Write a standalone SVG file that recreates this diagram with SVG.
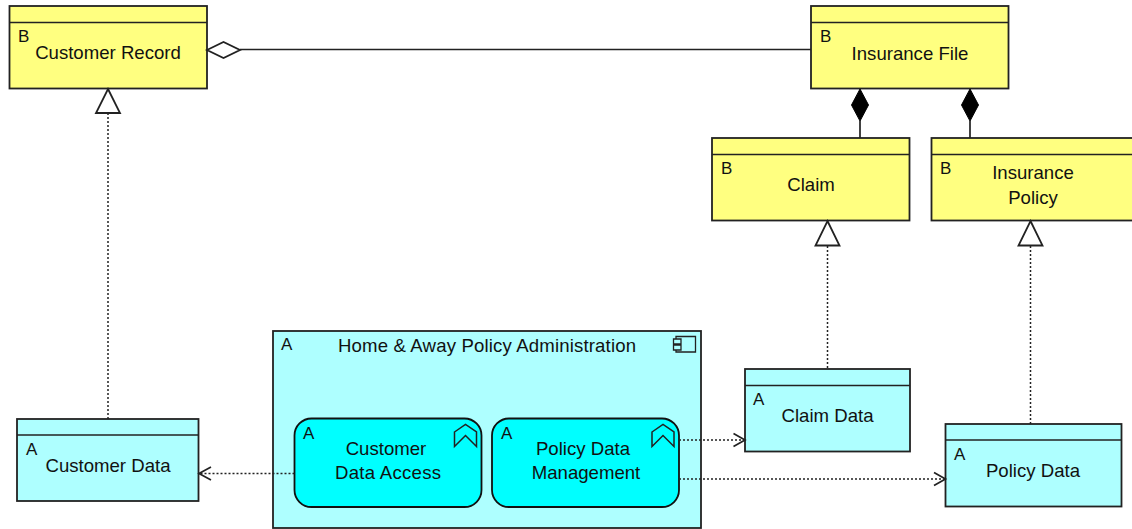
<svg xmlns="http://www.w3.org/2000/svg" width="1132" height="529" viewBox="0 0 1132 529">
<style>
text{font-family:"Liberation Sans",Arial,sans-serif;font-size:18.600px;fill:#111;text-anchor:middle}
text.t{text-anchor:start;font-size:17px}
.b{fill:#ffff80;stroke:#222;stroke-width:1.800}
.a{fill:#aeffff;stroke:#222;stroke-width:1.800}
.f{fill:#00ffff;stroke:#111;stroke-width:1.800}
.h{fill:none;stroke:#222;stroke-width:1.500}
.i{fill:#aeffff;stroke:#222;stroke-width:1.300}
.c{fill:none;stroke:#222;stroke-width:1.700}
.d{fill:none;stroke:#222;stroke-width:1.500;stroke-dasharray:2 2}
.o{fill:#fff;stroke:#222;stroke-width:1.800}
.k{fill:#000;stroke:#000;stroke-width:1}
</style>
<defs>
<path id="chev" class="h" d="M-11 -7 0 -14.500 11 -7V7.500L0 -3.500 -11 7.500Z"/>
</defs>
<g id="customer-record"><rect class="b" x="9.500" y="6" width="197.500" height="82.500"/><path class="h" d="M9.500 22.500H207"/><text class="t" x="18" y="42">B</text><text x="108" y="59">Customer Record</text></g>
<g id="insurance-file"><rect class="b" x="811" y="6" width="197.500" height="82.500"/><path class="h" d="M811 22.500H1008.500"/><text class="t" x="820" y="42">B</text><text x="910" y="60">Insurance File</text></g>
<g id="claim"><rect class="b" x="712" y="138" width="197.500" height="82.500"/><path class="h" d="M712 154.500H909.500"/><text class="t" x="721" y="174">B</text><text x="811" y="191">Claim</text></g>
<g id="insurance-policy"><rect class="b" x="931.500" y="138" width="210" height="82.500"/><path class="h" d="M931.500 154.500H1132"/><text class="t" x="940" y="174">B</text><text x="1033" y="179">Insurance</text><text x="1033" y="204">Policy</text></g>
<g id="home-away"><rect class="a" x="273" y="331" width="428" height="197"/><text class="t" x="281" y="350">A</text><text x="487" y="352" textLength="298">Home &amp; Away Policy Administration</text>
<path class="i" d="M676 336.500H695.500V352H676Z"/><path class="i" d="M673.500 339H681V344H673.500ZM673.500 345H681V350H673.500Z"/></g>
<g id="customer-data-access"><rect class="f" x="294.500" y="418.500" width="187" height="88.500" rx="17" ry="17"/><text class="t" x="303" y="439">A</text><text x="386" y="454.500">Customer</text><text x="388" y="479" textLength="106">Data Access</text><use href="#chev" x="465.500" y="439"/></g>
<g id="policy-data-management"><rect class="f" x="492" y="418.500" width="187" height="88.500" rx="17" ry="17"/><text class="t" x="501" y="439">A</text><text x="583" y="454.500">Policy Data</text><text x="586" y="479">Management</text><use href="#chev" x="663" y="439"/></g>
<g id="customer-data"><rect class="a" x="17" y="419" width="181.500" height="82"/><path class="h" d="M17 435H198.500"/><text class="t" x="26" y="455">A</text><text x="108" y="472">Customer Data</text></g>
<g id="claim-data"><rect class="a" x="745" y="369" width="165" height="82.500"/><path class="h" d="M745 385.500H910"/><text class="t" x="753" y="405">A</text><text x="827.500" y="422">Claim Data</text></g>
<g id="policy-data"><rect class="a" x="945.500" y="424" width="176" height="82.500"/><path class="h" d="M945.500 440H1121.500"/><text class="t" x="954" y="460">A</text><text x="1033" y="477">Policy Data</text></g>
<g id="connectors">
<path class="c" d="M240 49.500H811"/><path class="o" d="M207 50 223.500 42 240 50 223.500 58Z"/>
<path class="d" d="M108 113V419"/><path class="o" d="M108 89 120 113H96Z"/>
<path class="c" d="M860 121V138"/><path class="k" d="M860 89 868.500 105 860 121 851.500 105Z"/>
<path class="c" d="M970 121V138"/><path class="k" d="M970 89 978.500 105 970 121 961.500 105Z"/>
<path class="d" d="M827.500 246V369"/><path class="o" d="M827.500 221 839.500 245.500H815.500Z"/>
<path class="d" d="M1030.500 246V424"/><path class="o" d="M1030.500 221 1042.500 245.500H1018.500Z"/>
<path class="d" d="M294.500 473.500H200"/><path class="c" d="M211 467 199 473.500 211 480"/>
<path class="d" d="M679 440H744"/><path class="c" d="M733.500 433.500 745 440 733.500 446.500"/>
<path class="d" d="M679 479H944"/><path class="c" d="M934 472.500 945.500 479 934 485.500"/>
</g>
</svg>
